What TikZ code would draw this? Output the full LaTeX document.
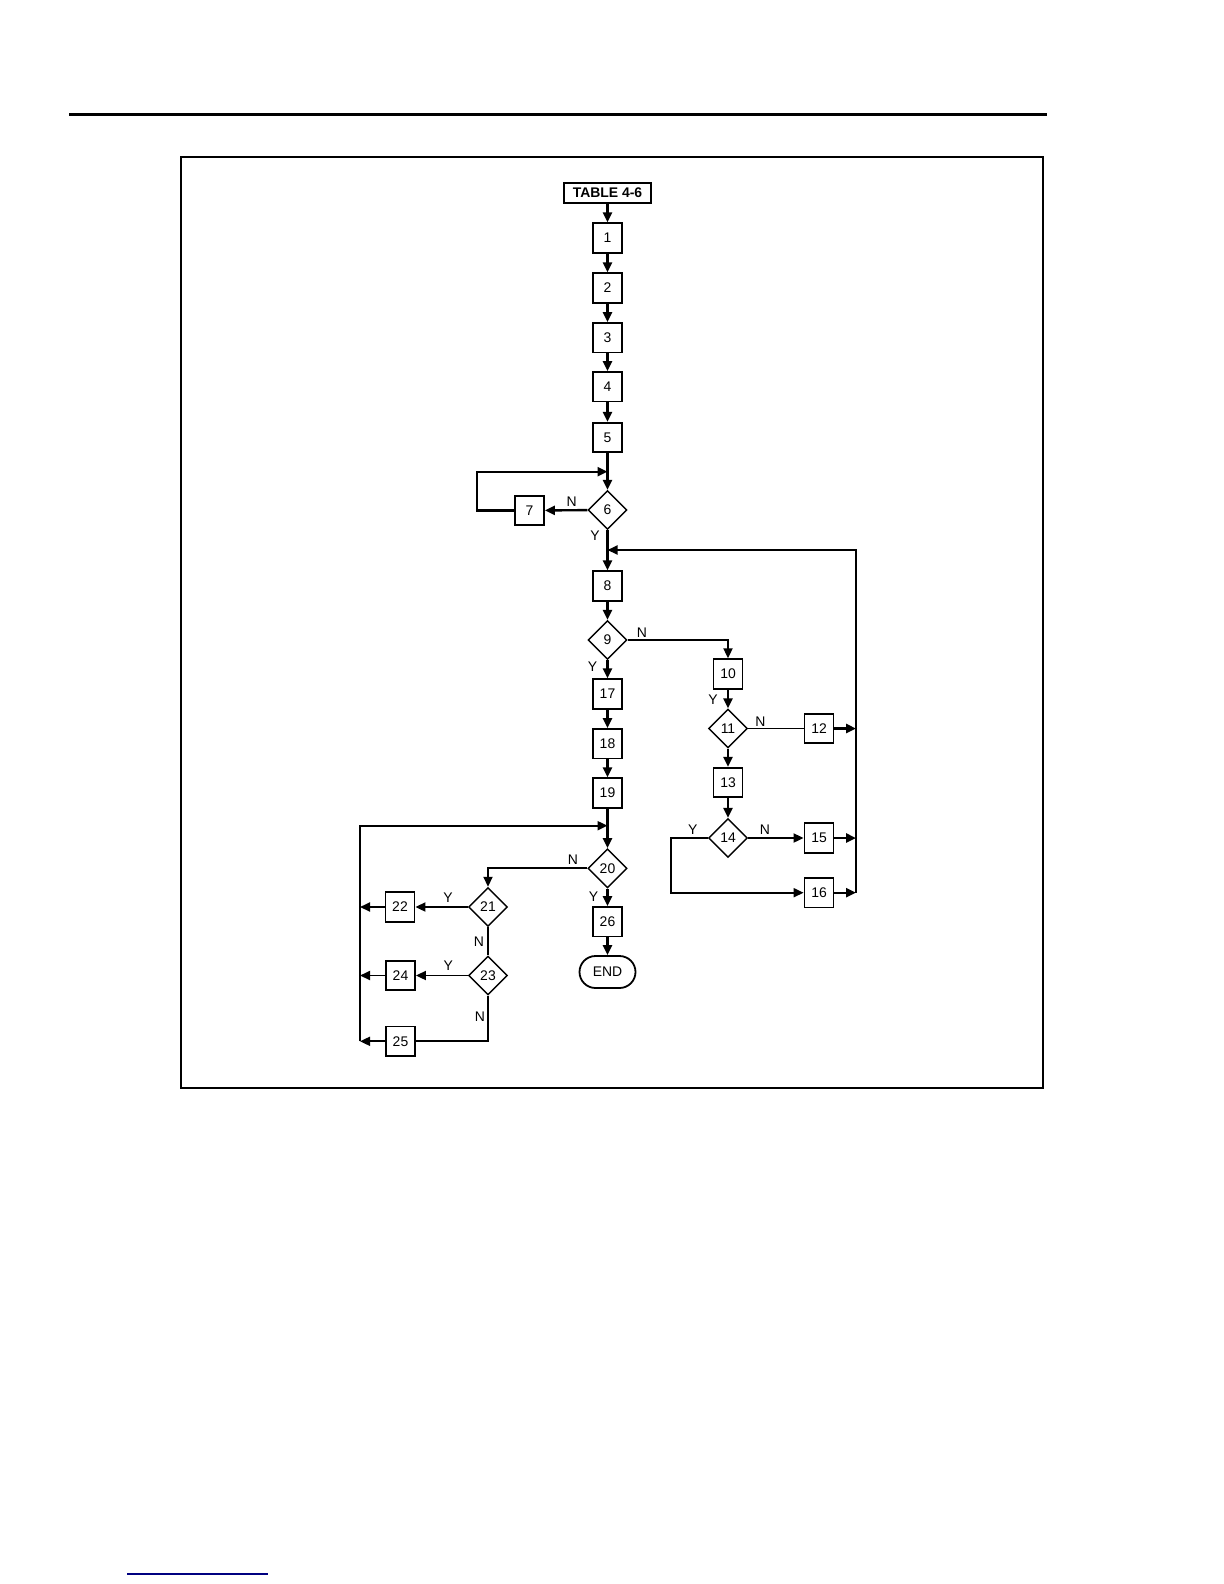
\documentclass[tikz,border=0pt]{standalone}
\usepackage{fontspec}
\setmainfont{Liberation Sans}
\usetikzlibrary{shapes.geometric,arrows.meta}

\begin{document}
\begin{tikzpicture}[
    x=0.5bp, y=-0.5bp,
    every node/.style={font=\fontsize{7}{8}\selectfont},
    block/.style={rectangle, draw, line width=0.9bp, minimum width=14.5bp, minimum height=14.75bp, inner sep=0pt},
    decision/.style={diamond, draw, line width=0.7bp, minimum width=19.5bp, minimum height=19.5bp, inner sep=0pt},
    start/.style={rectangle, draw, line width=1bp, minimum width=43.5bp, minimum height=10bp, inner sep=0pt, font=\fontsize{7}{8}\selectfont\bfseries},
    stop/.style={rectangle, draw, line width=0.9bp, rounded corners=8bp, minimum width=28bp, minimum height=16bp, inner sep=0pt},
    arrow/.style={-{Triangle[length=5bp,width=4.5bp]}, line width=1.2bp},
    line/.style={line width=0.9bp},
    yn/.style={inner sep=0pt}
]
    \useasboundingbox (0,0) rectangle (1224,1584);

% -------------------------
% Page rules and frame
% -------------------------
    \coordinate (ruleA) at (69.3,114.7);
    \coordinate (ruleB) at (1046.7,114.7);
    \draw[line width=1.5bp] (ruleA) -- (ruleB);
    \draw[line width=1bp] (181.3,157.3) rectangle (1043.3,1088.3);
    \coordinate (linkA) at (127,1573.5);
    \coordinate (linkB) at (268,1573.5);
    \draw[line width=1bp, blue!50!black] (linkA) -- (linkB);

% -------------------------
% Main column
% -------------------------
    \node[start] (tbl) at (607.5,193) {TABLE 4-6};
    \node[block] (n1) at (607.5,238) {1};
    \node[block] (n2) at (607.5,288) {2};
    \node[block] (n3) at (607.5,337.7) {3};
    \node[block] (n4) at (607.5,386.7) {4};
    \node[block] (n5) at (607.5,437.5) {5};
    \node[decision] (n6) at (607.5,510) {6};
    \node[block] (n7) at (529.5,510.5) {7};
    \node[block] (n8) at (607.5,586) {8};
    \node[decision] (n9) at (607.5,640) {9};
    \node[block] (n17) at (607.5,694) {17};
    \node[block] (n18) at (607.5,743.7) {18};
    \node[block] (n19) at (607.5,793) {19};
    \node[decision] (n20) at (607.5,868.3) {20};
    \node[block] (n26) at (607.5,921.7) {26};
    \node[stop] (end) at (607.5,972) {END};

% -------------------------
% Right branch
% -------------------------
    \node[block] (n10) at (728,674) {10};
    \node[decision] (n11) at (728,728.5) {11};
    \node[block] (n12) at (819,728.5) {12};
    \node[block] (n13) at (728,782.5) {13};
    \node[decision] (n14) at (728,838) {14};
    \node[block] (n15) at (819,838) {15};
    \node[block] (n16) at (819,892.7) {16};

% -------------------------
% Left branch
% -------------------------
    \node[decision] (n21) at (488,907) {21};
    \node[block] (n22) at (400,907) {22};
    \node[decision] (n23) at (488,975.5) {23};
    \node[block] (n24) at (400.5,975.5) {24};
    \node[block] (n25) at (400.5,1041.3) {25};

% -------------------------
% Y / N labels
% -------------------------
    \node[yn] (l6n) at (571.7,501.7) {N};
    \node[yn] (l6y) at (595,536) {Y};
    \node[yn] (l9n) at (642,632.5) {N};
    \node[yn] (l9y) at (592.5,666.5) {Y};
    \node[yn] (l10y) at (713,699.5) {Y};
    \node[yn] (l11n) at (760.3,721.3) {N};
    \node[yn] (l14y) at (692.7,830) {Y};
    \node[yn] (l14n) at (764.8,830) {N};
    \node[yn] (l20n) at (573,859.3) {N};
    \node[yn] (l20y) at (593.5,897) {Y};
    \node[yn] (l21y) at (448,897.5) {Y};
    \node[yn] (l21n) at (479,942) {N};
    \node[yn] (l23y) at (448.3,965.6) {Y};
    \node[yn] (l23n) at (479.8,1016.3) {N};

% -------------------------
% Bus points
% -------------------------
    \coordinate (m6) at (607.5,471.7);
    \coordinate (c7) at (476.7,510.5);
    \coordinate (m8) at (607.5,550);
    \coordinate (busR) at (856,550);
    \coordinate (c14) at (671,838);
    \coordinate (m20) at (607.5,825.7);
    \coordinate (busL) at (360,825.7);

% -------------------------
% Arrows & Routing
% -------------------------
    \draw[arrow] (tbl) -- (n1);
    \draw[arrow] (n1) -- (n2);
    \draw[arrow] (n2) -- (n3);
    \draw[arrow] (n3) -- (n4);
    \draw[arrow] (n4) -- (n5);
    \draw[arrow] (n5) -- (n6);
    \draw[arrow] (n6) -- (n7);
    \draw[arrow] (n7.west) -- (c7) |- (m6);
    \draw[arrow] (n6) -- (n8);
    \draw[arrow] (n8) -- (n9);
    \draw[arrow] (n9) -- (n17);
    \draw[arrow] (n17) -- (n18);
    \draw[arrow] (n18) -- (n19);
    \draw[arrow] (n19) -- (n20);
    \draw[arrow] (n20) -- (n26);
    \draw[arrow] (n26) -- (end);

% right branch
    \draw[arrow, line width=0.9bp] (n9.east) -| (n10.north);
    \draw[arrow] (n10) -- (n11);
    \draw[line] (n11) -- (n12);
    \draw[arrow] (n11) -- (n13);
    \draw[arrow] (n13) -- (n14);
    \draw[arrow, line width=0.9bp] (n14) -- (n15);
    \draw[arrow, line width=0.9bp] (n14.west) -- (c14) |- (n16.west);
    \draw[arrow] (n12.east) -- (n12 -| busR);
    \draw[arrow] (n15.east) -- (n15 -| busR);
    \draw[arrow] (n16.east) -- (n16 -| busR);
    \draw[arrow, line width=1bp] (n16 -| busR) -- (busR) -- (m8);

% left branch
    \draw[arrow, line width=0.9bp] (n20.west) -| (n21.north);
    \draw[arrow, line width=0.9bp] (n21) -- (n22);
    \draw[line] (n21) -- (n23);
    \draw[arrow, line width=0.9bp] (n23) -- (n24);
    \draw[line] (n23.south) |- (n25.east);
    \draw[arrow, line width=0.9bp] (n22.west) -- (n22 -| busL);
    \draw[arrow, line width=0.9bp] (n24.west) -- (n24 -| busL);
    \draw[arrow, line width=0.9bp] (n25.west) -- (n25 -| busL);
    \draw[arrow, line width=1bp] (n25 -| busL) -- (busL) -- (m20);
\end{tikzpicture}
\end{document}
